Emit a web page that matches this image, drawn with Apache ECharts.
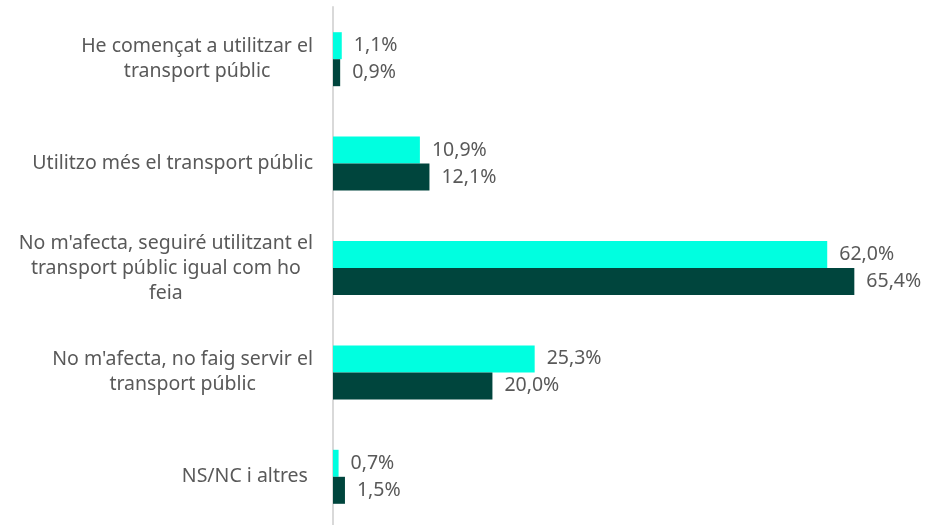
<!DOCTYPE html>
<html>
<head>
<meta charset="utf-8">
<script src="https://cdn.jsdelivr.net/npm/echarts@6/dist/echarts.min.js"></script>
<style>
  html, body { margin: 0; padding: 0; background: #ffffff; }
  #chart { width: 933px; height: 525px; }
</style>
</head>
<body>
<div id="chart"></div>
<script>
// Survey answers, top to bottom
const categories = [
  "He començat a utilitzar el\ntransport públic",
  "Utilitzo més el transport públic",
  "No m'afecta, seguiré utilitzant el\ntransport públic igual com ho\nfeia",
  "No m'afecta, no faig servir el\ntransport públic",
  "NS/NC i altres "
];
// Two survey waves (percentages)
const seriesA = [1.1, 10.9, 62.0, 25.3, 0.7];
const seriesB = [0.9, 12.1, 65.4, 20.0, 1.5];

const fontFamily = "'Noto Sans', 'Liberation Sans', sans-serif";
const textColor = '#595959';

const fmtPct = v => v.toFixed(1).replace('.', ',') + '%';

const chart = echarts.init(document.getElementById('chart'));

const barLabel = {
  show: true,
  position: 'right',
  distance: 12,
  color: textColor,
  fontSize: 19.5,
  fontFamily: fontFamily,
  formatter: p => fmtPct(p.value)
};

chart.setOption({
  animation: false,
  grid: {
    left: 333, top: 7, width: 558, height: 522,
    containLabel: false,
    outerBoundsMode: 'none'
  },
  xAxis: {
    type: 'value',
    min: 0,
    max: 70,
    show: false
  },
  yAxis: {
    type: 'category',
    data: categories,
    inverse: true,
    axisLine: { show: true, lineStyle: { color: '#d9d9d9', width: 2 } },
    axisTick: { show: false },
    axisLabel: {
      margin: 20,
      align: 'right',
      fontFamily: fontFamily,
      formatter: v => v.split('\n').map(l => '{c|' + l + '}').join('\n'),
      rich: {
        c: {
          align: 'center',
          fontSize: 19.5,
          lineHeight: 25,
          color: textColor,
          fontFamily: fontFamily
        }
      }
    }
  },
  series: [
    {
      type: 'bar',
      data: seriesA,
      barWidth: 27,
      barGap: '0%',
      itemStyle: { color: '#00FFE0' },
      label: barLabel
    },
    {
      type: 'bar',
      data: seriesB,
      barWidth: 27,
      barGap: '0%',
      itemStyle: { color: '#00453D' },
      label: barLabel
    }
  ]
});
</script>
</body>
</html>
